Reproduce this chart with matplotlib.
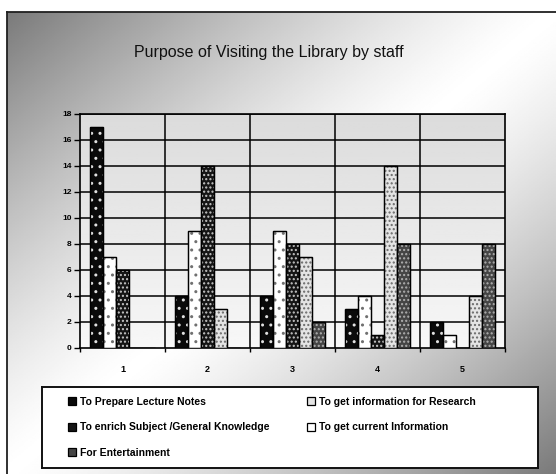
import numpy as np
import matplotlib
matplotlib.use("Agg")
import matplotlib.pyplot as plt

# ---- data ----
categories = ["1", "2", "3", "4", "5"]
lecture_notes = [17, 4, 4, 3, 2]
current_info = [7, 9, 9, 4, 1]
enrich_knowledge = [6, 14, 8, 1, 0]
research_info = [0, 3, 7, 14, 4]
entertainment = [0, 0, 2, 8, 8]

labels = {
    "lecture": "To Prepare Lecture Notes",
    "research": "To get information for Research",
    "enrich": "To enrich Subject /General Knowledge",
    "current": "To get current Information",
    "ent": "For Entertainment",
}
title = "Purpose of Visiting the Library by staff"

FONT = ["Liberation Sans", "DejaVu Sans"]
plt.rcParams["hatch.linewidth"] = 1.0

W, H = 556, 474
fig = plt.figure(figsize=(W / 100, H / 100), dpi=100, facecolor="white")

# ---- chart-area background (diagonal gradient) ----
bg = fig.add_axes([0, 0, 1, 1], zorder=-10)
bg.set_xlim(0, W)
bg.set_ylim(H, 0)
bg.axis("off")
fx0, fy0 = 7, 12
u = np.linspace(0, 1, 300)[None, :]
v = np.linspace(0, 1, 300)[:, None]
t = u + v
grad = 1 - 0.52 * np.abs(t - 1) ** 1.3
bg.imshow(grad, cmap="gray", vmin=0, vmax=1, extent=(fx0, W, H, fy0),
          aspect="auto", interpolation="bilinear")
bg.plot([fx0, fx0], [fy0, H], color="#202020", lw=1.3)
bg.plot([fx0, W], [fy0, fy0], color="#202020", lw=1.3)

# ---- title ----
fig.text(269 / W, 1 - 53 / H, title, ha="center", va="center",
         fontsize=11.5, family=FONT, color="#111111")

# ---- plot area ----
ax = fig.add_axes([80 / W, (H - 348) / H, 425 / W, 234 / H])
ax.set_xlim(-0.5, 4.5)
ax.set_ylim(0, 18)
pg = np.linspace(0.97, 0.86, 100)[:, None]
ax.imshow(pg, cmap="gray", vmin=0, vmax=1, extent=(-0.5, 4.5, 0, 18),
          aspect="auto", zorder=0, origin="lower")

idx = np.arange(len(categories))
w = 0.153
series = [
    (lecture_notes, "lecture", "#0a0a0a", "#e0e0e0", ".."),
    (current_info, "current", "white", "#707070", ".."),
    (enrich_knowledge, "enrich", "#151515", "#c8c8c8", "...."),
    (research_info, "research", "#e4e4e4", "#6a6a6a", "...."),
    (entertainment, "ent", "#454545", "#b0b0b0", "...."),
]
handles = {}
for j, (vals, key, face, hcol, hatch) in enumerate(series):
    x = idx + (j - 2) * w
    base = ax.bar(x, vals, w, color=face, edgecolor="black", linewidth=0.9,
                  zorder=3, label=labels[key])
    ax.bar(x, vals, w, color="none", edgecolor=hcol, hatch=hatch,
           linewidth=0, zorder=4)
    ax.bar(x, vals, w, color="none", edgecolor="black", linewidth=0.9,
           zorder=5)
    handles[key] = base

# gridlines
for yv in range(2, 19, 2):
    ax.axhline(yv, color="black", lw=1.1, zorder=1)
for xv in np.arange(0.5, 4.5, 1.0):
    ax.axvline(xv, color="black", lw=1.1, zorder=1)
for s in ax.spines.values():
    s.set_color("black")
    s.set_linewidth(1.2)

ax.set_yticks(range(0, 19, 2))
ax.set_yticklabels([str(v) for v in range(0, 19, 2)], fontsize=6,
                   fontweight="bold", family=FONT)
ax.set_xticks(idx)
ax.set_xticklabels(categories, fontsize=6.5, fontweight="bold", family=FONT)
ax.set_xticks(np.arange(-0.5, 5.0, 1.0), minor=True)
ax.tick_params(axis="x", which="major", length=0, pad=12)
ax.tick_params(axis="x", which="minor", length=3, width=1, direction="out")
ax.tick_params(axis="y", length=4, width=1, direction="out", pad=2)

# ---- legend box ----
lax = fig.add_axes([42 / W, 6 / H, 496 / W, 81 / H], zorder=5)
lax.set_facecolor("white")
lax.set_xticks([])
lax.set_yticks([])
for s in lax.spines.values():
    s.set_color("#111111")
    s.set_linewidth(1.4)
order = ["lecture", "enrich", "ent", "research", "current"]
lax.legend([handles[k] for k in order], [labels[k] for k in order],
           loc="upper left", bbox_to_anchor=(0.052, 0.88), ncol=2,
           frameon=False, borderpad=0, borderaxespad=0,
           handlelength=0.8, handleheight=0.8, handletextpad=0.35,
           labelspacing=1.5, columnspacing=3.6,
           prop={"family": FONT, "weight": "bold", "size": 7.5})

fig.savefig("out.png", dpi=100, facecolor="white")
